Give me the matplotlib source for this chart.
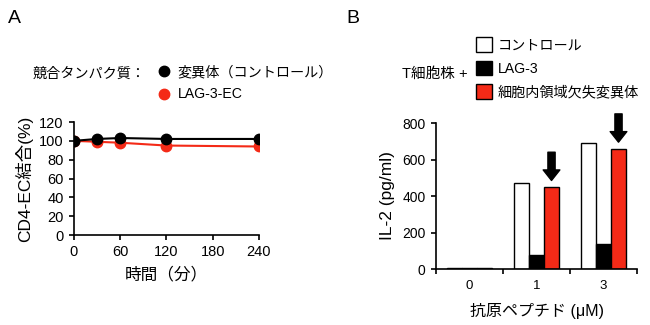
import matplotlib
matplotlib.use("Agg")
import matplotlib.pyplot as plt
from matplotlib.lines import Line2D
from matplotlib.patches import Patch

plt.rcParams["font.family"] = ["Liberation Sans", "Noto Sans CJK JP"]

# --- パネルA: 時間経過と結合 ---
tiempo = [0, 30, 60, 120, 240]
control = [100, 102, 103, 102, 102]
lag3_ec = [100, 99, 98, 95, 94]

# --- パネルB: IL-2 産生 ---
peptido = ["0", "1", "3"]
il2_control = [3, 470, 690]
il2_lag3 = [3, 75, 135]
il2_mut = [3, 450, 660]

ROJO = "#f42a17"

fig = plt.figure(figsize=(6.5, 3.25), dpi=100)

# ---------- A ----------
axA = fig.add_axes([0.1138, 0.2769, 0.2846, 0.3477])
axA.plot(tiempo, lag3_ec, color=ROJO, lw=1.5, marker="o", ms=7.5, zorder=2)
axA.plot(tiempo, control, color="black", lw=1.5, marker="o", ms=7.5, zorder=3)
axA.set_xlim(0, 240)
axA.set_ylim(0, 120)
axA.set_xticks([0, 60, 120, 180, 240])
axA.set_yticks(range(0, 121, 20))
for s in ["top", "right"]:
    axA.spines[s].set_visible(False)
for s in ["left", "bottom"]:
    axA.spines[s].set_linewidth(1.2)
axA.tick_params(labelsize=10.5, width=1.2, length=3.5, pad=4)
axA.set_xlabel("時間（分）", fontsize=12, labelpad=5)
axA.set_ylabel("CD4-EC結合(%)", fontsize=12.5, labelpad=4)
for t in axA.get_xticklabels() + axA.get_yticklabels():
    t.set_clip_on(False)

fig.text(0.012, 0.93, "A", fontsize=14)
fig.text(0.224, 0.772, "競合タンパク質：", fontsize=10.2, ha="right", va="center")
hA = [Line2D([], [], ls="none", marker="o", ms=7.5, color="black"),
      Line2D([], [], ls="none", marker="o", ms=7.5, color=ROJO)]
fig.legend(hA, ["変異体（コントロール）", "LAG-3-EC"], loc="upper left",
           bbox_to_anchor=(0.243, 0.80), frameon=False, fontsize=10.2,
           handlelength=0.8, handletextpad=0.6, labelspacing=0.6,
           borderpad=0, borderaxespad=0)

# ---------- B ----------
axB = fig.add_axes([0.6708, 0.1723, 0.3092, 0.4492])
xs = range(len(peptido))
w = 0.224
axB.bar([x - w for x in xs], il2_control, w, color="white", edgecolor="black", lw=1)
axB.bar(list(xs), il2_lag3, w, color="black", edgecolor="black", lw=1)
axB.bar([x + w for x in xs], il2_mut, w, color=ROJO, edgecolor="black", lw=1)
for x, v in zip(xs, il2_mut):
    if v > 100:
        axB.annotate("", xy=(x + w, v + 35), xytext=(x + w, v + 190),
                     annotation_clip=False,
                     arrowprops=dict(arrowstyle="simple,head_length=0.38,head_width=0.6,tail_width=0.26",
                                     mutation_scale=20, color="black",
                                     shrinkA=0, shrinkB=0))
axB.set_xlim(-0.5, 2.5)
axB.set_ylim(0, 800)
axB.set_yticks(range(0, 801, 200))
axB.set_xticks([-0.5, 0.5, 1.5, 2.5])
axB.set_xticklabels([])
axB.set_xticks(list(xs), minor=True)
axB.set_xticklabels(peptido, minor=True)
axB.tick_params(axis="x", which="minor", length=0, labelsize=9.5, pad=8)
axB.tick_params(axis="x", which="major", width=1.2, length=3.5)
axB.tick_params(axis="y", labelsize=10, width=1.2, length=3.5, pad=4)
for s in ["top", "right"]:
    axB.spines[s].set_visible(False)
for s in ["left", "bottom"]:
    axB.spines[s].set_linewidth(1.2)
axB.set_xlabel("抗原ペプチド (μM)", fontsize=11.5, labelpad=8)
axB.set_ylabel("IL-2 (pg/ml)", fontsize=12.5, labelpad=5)

fig.text(0.533, 0.93, "B", fontsize=14)
fig.text(0.719, 0.772, "T細胞株 +", fontsize=10.5, ha="right", va="center")
hB = [Patch(facecolor="white", edgecolor="black", lw=1),
      Patch(facecolor="black", edgecolor="black", lw=1),
      Patch(facecolor=ROJO, edgecolor="black", lw=1)]
fig.legend(hB, ["コントロール", "LAG-3", "細胞内領域欠失変異体"], loc="upper left",
           bbox_to_anchor=(0.733, 0.885), frameon=False, fontsize=10.2,
           handlelength=1.1, handleheight=1.2, handletextpad=0.4,
           labelspacing=0.6, borderpad=0, borderaxespad=0)

fig.savefig("out.png", dpi=100)
